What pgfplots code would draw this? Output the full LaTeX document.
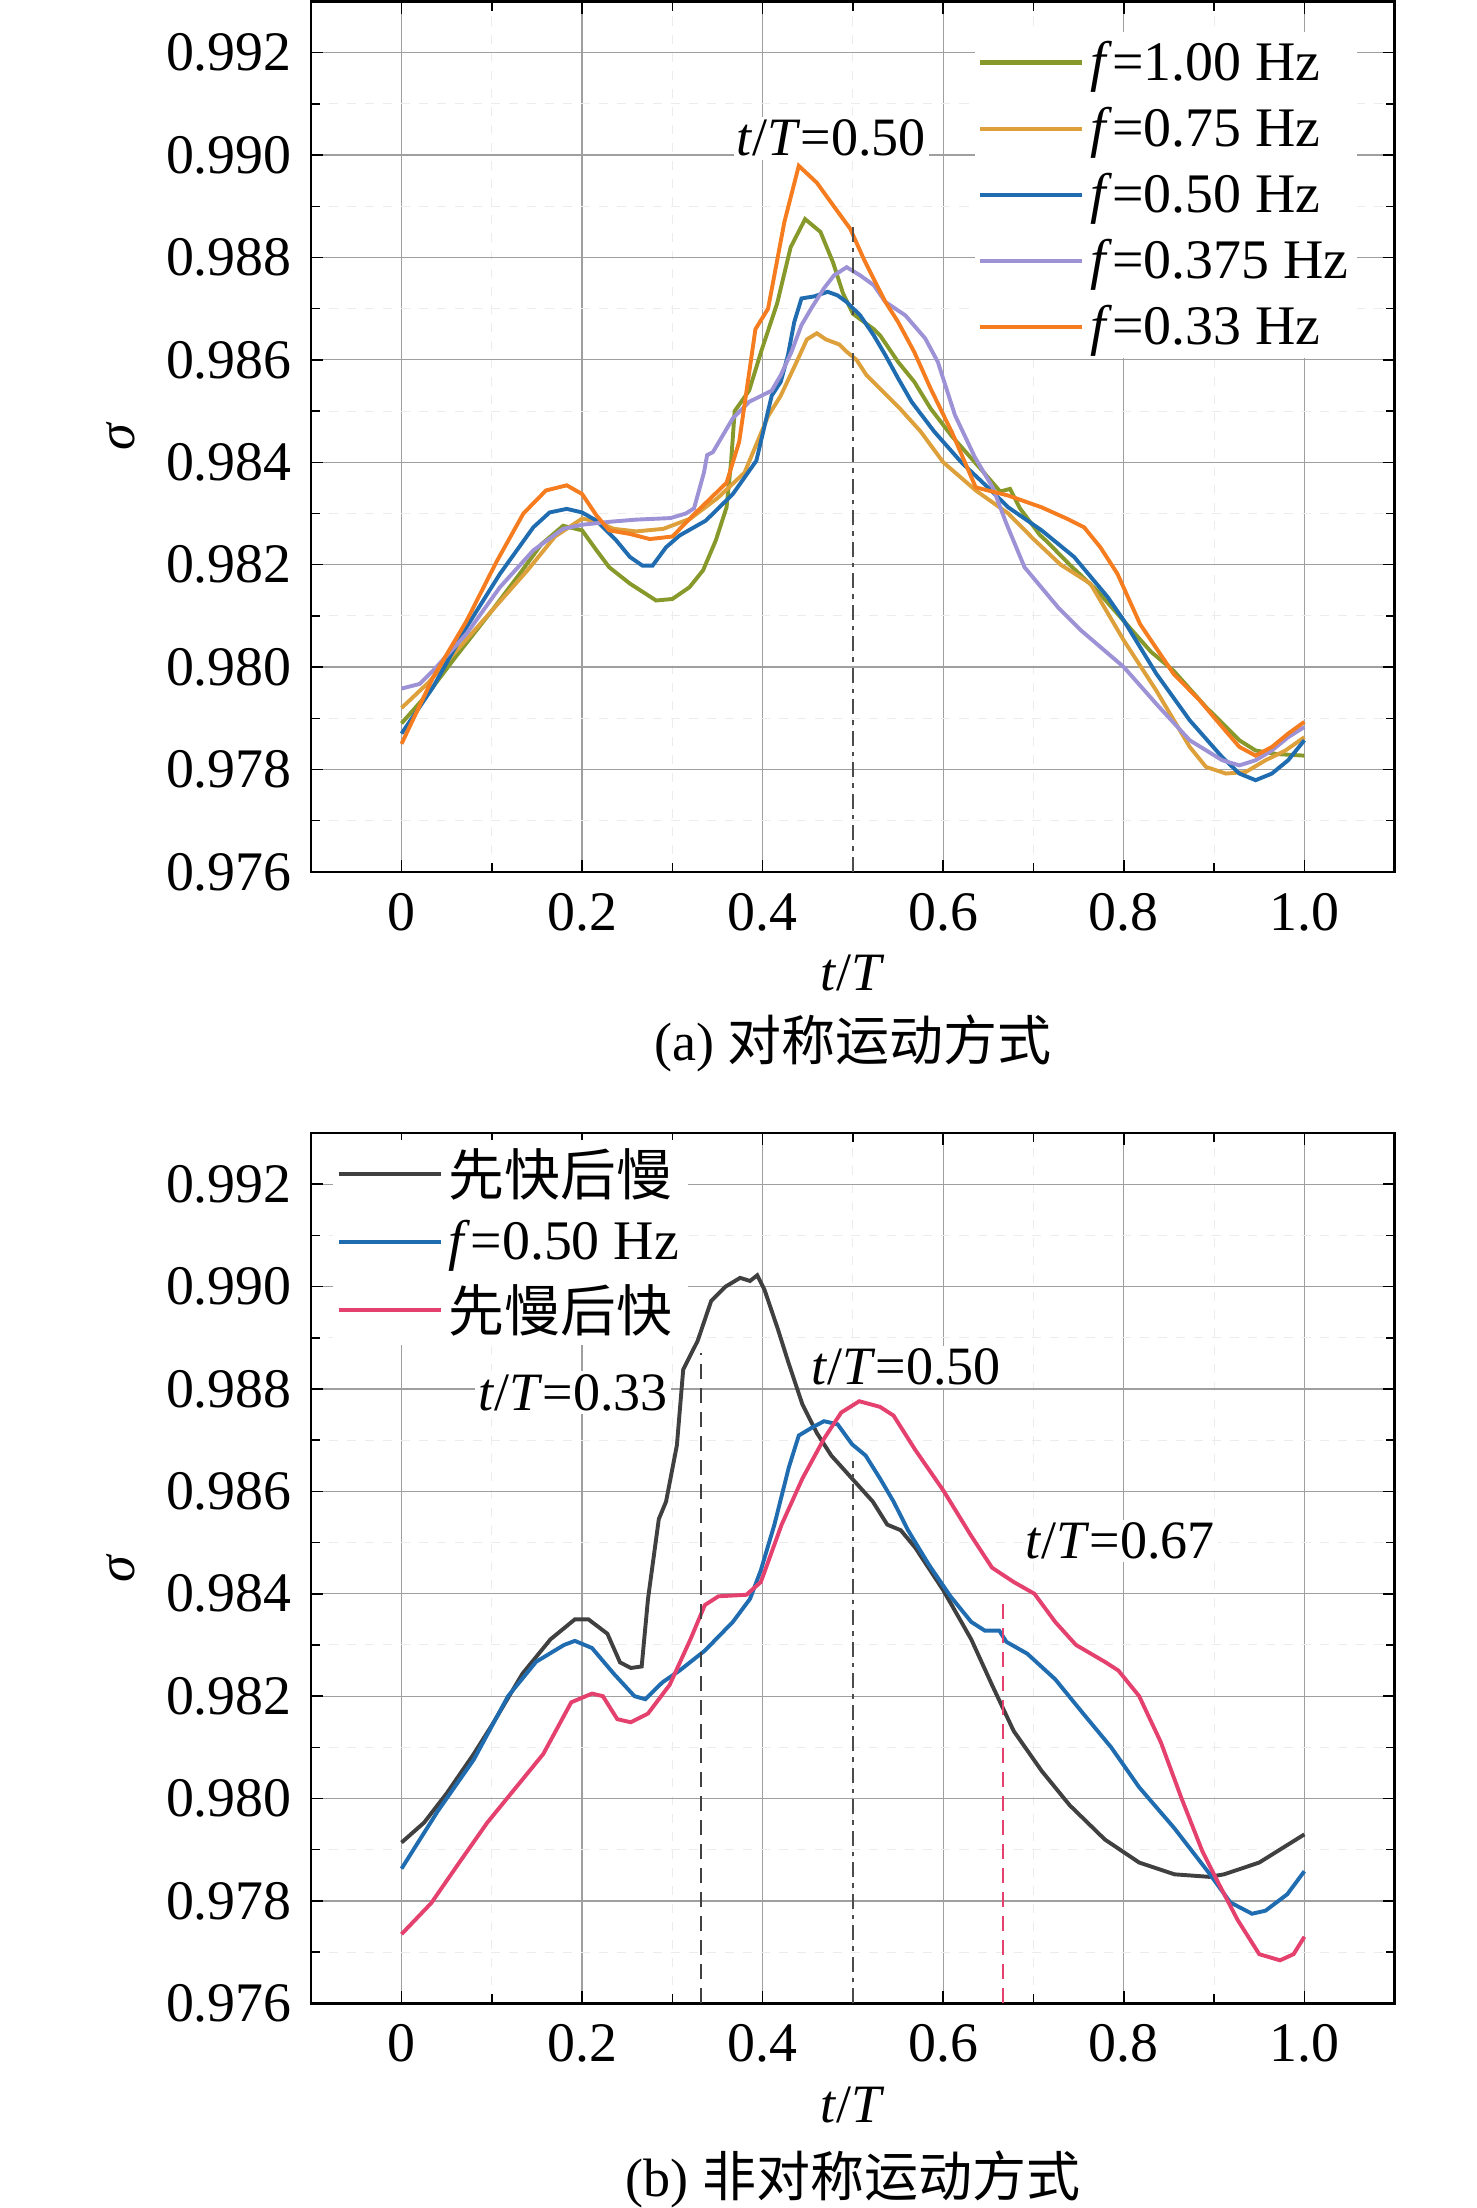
\documentclass[border=0pt]{standalone}
\usepackage{fontspec}
\setmainfont{Liberation Serif}
\newfontfamily\cjk{Noto Sans CJK SC}
\usepackage{pgfplots}
\pgfplotsset{compat=1.18}
\definecolor{colA}{HTML}{86992A}
\definecolor{colB}{HTML}{DDA03A}
\definecolor{colC}{HTML}{1F6DB0}
\definecolor{colD}{HTML}{9D92D6}
\definecolor{colE}{HTML}{F57D1F}
\definecolor{colK}{HTML}{404040}
\definecolor{colP}{HTML}{E5416F}
\newcommand{\fs}{\fontsize{18}{21}\selectfont}
\newcommand{\fl}{\fontsize{18.6}{21}\selectfont}
\pgfplotsset{myax/.style={
  scale only axis, width=361pt, height=290pt,
  xmin=-0.1, xmax=1.1, ymin=0.976, ymax=0.993,
  xtick={0,0.2,0.4,0.6,0.8,1.0}, xticklabels={0,0.2,0.4,0.6,0.8,1.0},
  ytick={0.976,0.978,0.980,0.982,0.984,0.986,0.988,0.990,0.992},
  minor x tick num=1, minor y tick num=1,
  tick align=inside, xtick pos=both, ytick pos=both,
  major tick length=4pt, minor tick length=3pt,
  every tick/.style={black, line width=0.5pt},
  grid=both,
  major grid style={line width=0.4pt, color=gray!75},
  minor grid style={line width=0.35pt, color=gray!15, dashed},
  axis line style={line width=0.8pt},
  /pgf/number format/assume math mode=true,
  y tick label style={/pgf/number format/fixed, /pgf/number format/fixed zerofill, /pgf/number format/precision=3, xshift=-3pt},
  x tick label style={yshift=-3.5pt},
  tick label style={font=\fl},
  label style={font=\fs},
  xlabel={\textit{t}/\textit{T}},
  ylabel={\textit{σ}},
  xlabel style={at={(axis description cs:0.5,-0.1166)}, anchor=center},
  ylabel style={at={(axis description cs:-0.176,0.5)}, anchor=center},
  legend style={draw=none, fill=white, font=\fl, inner sep=1pt, row sep=4pt},
  legend cell align=left,
  legend image code/.code={\draw[#1, line width=1.4pt] (0pt,0pt) -- (34pt,0pt);},
  every axis plot/.append style={line width=1.3pt, no markers},
}}
\begin{document}
\begin{tikzpicture}
\path[use as bounding box] (-103.7pt,0.5pt) rectangle (388.2pt,-735.2pt);
% ---------------- (a)
\begin{axis}[myax, name=top, at={(0pt,0pt)}, anchor=north west,
  legend style={at={(0.612,0.966)}, anchor=north west, row sep=3.4pt}]
\addplot[colA] coordinates {(0,0.9789) (0.03,0.9795) (0.06,0.9802) (0.1,0.9811) (0.13,0.9818) (0.155,0.9824) (0.179,0.98276) (0.2,0.98267) (0.216,0.98228) (0.23,0.98195) (0.253,0.98163) (0.282,0.9813) (0.3,0.98133) (0.319,0.98156) (0.334,0.98189) (0.348,0.98247) (0.36,0.98312) (0.365,0.9840) (0.369,0.9850) (0.375,0.98515) (0.385,0.9854) (0.399,0.9862) (0.416,0.9871) (0.431,0.9882) (0.447,0.98875) (0.464,0.9885) (0.478,0.9879) (0.489,0.9873) (0.5,0.9869) (0.523,0.9866) (0.53,0.98648) (0.55,0.98596) (0.568,0.98557) (0.586,0.98505) (0.61,0.9845) (0.64,0.9839) (0.663,0.98343) (0.674,0.98348) (0.685,0.9831) (0.707,0.98258) (0.715,0.98245) (0.74,0.9820) (0.77,0.9815) (0.8,0.9809) (0.83,0.9803) (0.855,0.97993) (0.891,0.97922) (0.928,0.97857) (0.946,0.97837) (0.97,0.9783) (1.0,0.97827)};
\addlegendentry{\textit{f}=1.00 Hz}
\addplot[colB] coordinates {(0,0.9792) (0.03,0.9797) (0.06,0.9803) (0.1,0.9811) (0.14,0.9819) (0.17,0.98255) (0.2,0.9829) (0.215,0.98285) (0.235,0.9827) (0.26,0.98265) (0.29,0.9827) (0.32,0.9829) (0.35,0.9833) (0.38,0.9838) (0.406,0.9849) (0.42,0.9853) (0.436,0.9859) (0.449,0.9864) (0.46,0.98652) (0.47,0.9864) (0.485,0.9863) (0.493,0.98616) (0.504,0.9860) (0.515,0.9857) (0.53,0.98544) (0.552,0.98505) (0.575,0.9846) (0.6,0.9840) (0.636,0.98345) (0.672,0.9830) (0.7,0.9825) (0.73,0.9820) (0.763,0.98163) (0.8,0.98052) (0.836,0.97954) (0.873,0.97844) (0.891,0.97805) (0.913,0.97792) (0.935,0.97795) (0.957,0.97818) (0.979,0.97837) (1.0,0.97863)};
\addlegendentry{\textit{f}=0.75 Hz}
\addplot[colC] coordinates {(0,0.9787) (0.035,0.97961) (0.072,0.98078) (0.109,0.98182) (0.146,0.98273) (0.164,0.98302) (0.183,0.98309) (0.2,0.98302) (0.216,0.98286) (0.238,0.98247) (0.253,0.98215) (0.267,0.98198) (0.278,0.98198) (0.293,0.98234) (0.308,0.98257) (0.337,0.98286) (0.367,0.98338) (0.393,0.98403) (0.41,0.9853) (0.42,0.98557) (0.428,0.98609) (0.435,0.98674) (0.443,0.9872) (0.457,0.98724) (0.472,0.98733) (0.483,0.98726) (0.493,0.98713) (0.508,0.98687) (0.523,0.98648) (0.536,0.98609) (0.55,0.98564) (0.565,0.98518) (0.59,0.9846) (0.62,0.9840) (0.65,0.9835) (0.672,0.98312) (0.709,0.98267) (0.745,0.98215) (0.782,0.98137) (0.8,0.98091) (0.836,0.97987) (0.873,0.97896) (0.909,0.97824) (0.928,0.97792) (0.946,0.97779) (0.964,0.97792) (0.982,0.97818) (1.0,0.97857)};
\addlegendentry{\textit{f}=0.50 Hz}
\addplot[colD] coordinates {(0,0.97958) (0.02,0.97967) (0.035,0.97993) (0.072,0.98065) (0.109,0.98156) (0.146,0.98228) (0.179,0.9827) (0.2,0.98278) (0.232,0.98284) (0.26,0.98288) (0.298,0.98291) (0.315,0.9830) (0.324,0.9831) (0.335,0.9838) (0.3385,0.98414) (0.345,0.9842) (0.367,0.98486) (0.385,0.98518) (0.41,0.9854) (0.42,0.9857) (0.432,0.98616) (0.443,0.98668) (0.454,0.98701) (0.468,0.9874) (0.479,0.98765) (0.493,0.98781) (0.508,0.98765) (0.523,0.98746) (0.536,0.98713) (0.558,0.98687) (0.58,0.98642) (0.594,0.98596) (0.613,0.98492) (0.635,0.9841) (0.655,0.9835) (0.67,0.9828) (0.69,0.98195) (0.727,0.98117) (0.753,0.98071) (0.8,0.9800) (0.836,0.97928) (0.873,0.97857) (0.909,0.97818) (0.928,0.97808) (0.946,0.97818) (0.964,0.97837) (0.982,0.97863) (1.0,0.97883)};
\addlegendentry{\textit{f}=0.375 Hz}
\addplot[colE] coordinates {(0,0.9785) (0.035,0.9798) (0.072,0.9809) (0.105,0.98205) (0.135,0.9830) (0.16,0.98345) (0.183,0.98355) (0.2,0.98338) (0.216,0.98296) (0.23,0.98267) (0.253,0.9826) (0.275,0.9825) (0.3,0.98255) (0.325,0.9830) (0.36,0.9836) (0.374,0.9844) (0.392,0.9866) (0.406,0.9870) (0.424,0.98869) (0.44,0.98979) (0.46,0.98946) (0.478,0.98902) (0.497,0.98856) (0.512,0.98797) (0.523,0.98758) (0.536,0.98713) (0.55,0.98674) (0.568,0.98615) (0.586,0.98544) (0.61,0.98457) (0.636,0.98351) (0.672,0.98335) (0.709,0.98312) (0.738,0.98289) (0.756,0.98273) (0.774,0.98234) (0.793,0.98182) (0.818,0.98084) (0.855,0.97987) (0.884,0.97935) (0.909,0.97883) (0.928,0.97844) (0.946,0.97827) (0.964,0.97844) (0.982,0.9787) (1.0,0.97893)};
\addlegendentry{\textit{f}=0.33 Hz}
\addplot[gray!60!black, line width=0.8pt, dash pattern=on 5pt off 2pt on 1.5pt off 2pt, forget plot] coordinates {(0.5,0.976) (0.5,0.9886)};
\node[font=\fs, fill=white, inner sep=1pt] at (axis cs:0.476,0.99033) {\textit{t}/\textit{T}=0.50};
\end{axis}
\node[font=\fs] at ([yshift=-57.3pt]top.south) {(a) {\cjk 对称运动方式}};
% ---------------- (b)
\begin{axis}[myax, name=bot, at={(0pt,-377pt)}, anchor=north west,
  legend style={at={(0.02,0.993)}, anchor=north west, row sep=2.8pt}]
\addplot[colK] coordinates {(0,0.97914) (0.025,0.97953) (0.05,0.9801) (0.08,0.98087) (0.1,0.98143) (0.134,0.98244) (0.165,0.98311) (0.192,0.9835) (0.207,0.9835) (0.228,0.98322) (0.242,0.98266) (0.254,0.98255) (0.266,0.98258) (0.273,0.9839) (0.285,0.98546) (0.293,0.9858) (0.305,0.9869) (0.312,0.98838) (0.328,0.98894) (0.343,0.98972) (0.359,0.990) (0.375,0.99017) (0.386,0.99011) (0.394,0.99022) (0.402,0.98994) (0.417,0.98916) (0.429,0.98849) (0.444,0.9877) (0.46,0.98714) (0.476,0.9867) (0.499,0.98625) (0.522,0.9858) (0.538,0.98535) (0.553,0.98524) (0.569,0.9849) (0.6,0.98407) (0.631,0.98311) (0.654,0.98222) (0.666,0.98177) (0.678,0.98132) (0.709,0.98054) (0.74,0.97987) (0.779,0.9792) (0.817,0.97875) (0.856,0.97852) (0.895,0.97847) (0.911,0.97852) (0.95,0.97875) (1.0,0.9793)};
\addlegendentry{\cjk 先快后慢}
\addplot[colC] coordinates {(0,0.97863) (0.04,0.97975) (0.08,0.98076) (0.118,0.982) (0.149,0.98267) (0.18,0.983) (0.192,0.98308) (0.211,0.98294) (0.235,0.98244) (0.258,0.982) (0.27,0.98194) (0.289,0.98227) (0.308,0.9825) (0.336,0.98289) (0.367,0.98345) (0.386,0.9839) (0.398,0.98446) (0.413,0.98535) (0.429,0.98647) (0.44,0.98709) (0.456,0.98726) (0.468,0.98737) (0.483,0.98731) (0.499,0.98692) (0.514,0.9867) (0.53,0.98625) (0.545,0.9858) (0.561,0.98524) (0.584,0.98457) (0.608,0.98395) (0.631,0.98345) (0.646,0.98328) (0.662,0.98328) (0.67,0.98306) (0.693,0.98283) (0.724,0.98233) (0.755,0.98166) (0.786,0.981) (0.817,0.98022) (0.856,0.97942) (0.895,0.97853) (0.918,0.97797) (0.942,0.97775) (0.957,0.97781) (0.981,0.97813) (1.0,0.97858)};
\addlegendentry{\textit{f}=0.50 Hz}
\addplot[colP] coordinates {(0,0.97735) (0.033,0.97796) (0.064,0.97875) (0.095,0.97953) (0.126,0.9802) (0.157,0.98087) (0.188,0.98188) (0.211,0.98205) (0.223,0.982) (0.239,0.98155) (0.254,0.98149) (0.273,0.98166) (0.297,0.98222) (0.32,0.98311) (0.336,0.98378) (0.351,0.98395) (0.382,0.98398) (0.398,0.98423) (0.421,0.98535) (0.444,0.98625) (0.468,0.98703) (0.487,0.98754) (0.507,0.98776) (0.53,0.98765) (0.545,0.98748) (0.569,0.98681) (0.6,0.98602) (0.631,0.98513) (0.654,0.98451) (0.678,0.98423) (0.701,0.984) (0.724,0.98345) (0.747,0.983) (0.779,0.98267) (0.794,0.9825) (0.817,0.982) (0.841,0.9811) (0.864,0.980) (0.887,0.97897) (0.903,0.97841) (0.926,0.97763) (0.95,0.97696) (0.973,0.97684) (0.988,0.97696) (1.0,0.9773)};
\addlegendentry{\cjk 先慢后快}
\addplot[colK, line width=0.8pt, dash pattern=on 5pt off 3pt, forget plot] coordinates {(0.332,0.976) (0.332,0.9887)};
\addplot[gray!60!black, line width=0.8pt, dash pattern=on 5pt off 2pt on 1.5pt off 2pt, forget plot] coordinates {(0.5,0.976) (0.5,0.9866)};
\addplot[colP, line width=0.8pt, dash pattern=on 5pt off 3pt, forget plot] coordinates {(0.666,0.976) (0.666,0.9839)};
\node[font=\fs, fill=white, inner sep=1pt] at (axis cs:0.19,0.98793) {\textit{t}/\textit{T}=0.33};
\node[font=\fs, fill=white, inner sep=1pt] at (axis cs:0.559,0.98843) {\textit{t}/\textit{T}=0.50};
\node[font=\fs, fill=white, inner sep=1pt] at (axis cs:0.796,0.98503) {\textit{t}/\textit{T}=0.67};
\end{axis}
\node[font=\fs] at ([yshift=-58.7pt]bot.south) {(b) {\cjk 非对称运动方式}};
\end{tikzpicture}
\end{document}
